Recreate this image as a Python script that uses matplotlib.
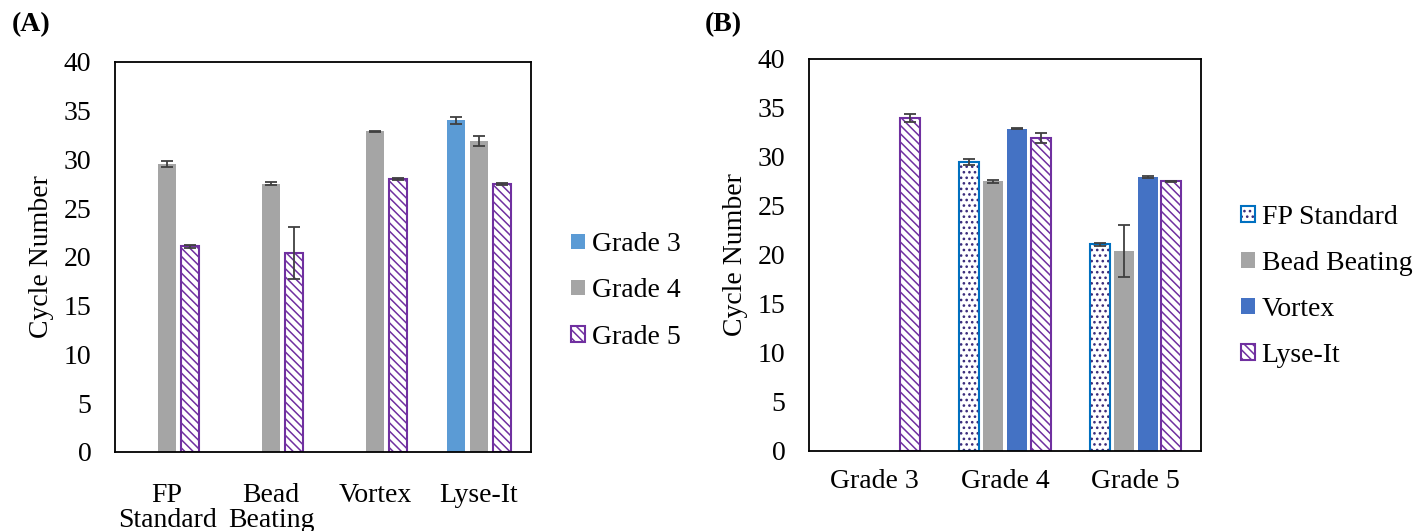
import numpy as np
import matplotlib
matplotlib.use("Agg")
import matplotlib.pyplot as plt

plt.rcParams['font.family'] = ['Liberation Serif', 'DejaVu Serif']
plt.rcParams['font.size'] = 20
plt.rcParams['hatch.linewidth'] = 1.1

# data
methods = ['FP Standard', 'Bead Beating', 'Vortex', 'Lyse-It']
method_ticks = ['FP\nStandard', 'Bead\nBeating', 'Vortex', 'Lyse-It']
grades = ['Grade 3', 'Grade 4', 'Grade 5']

grade3 = [np.nan, np.nan, np.nan, 34.0]
grade4 = [29.5, 27.5, 32.9, 31.9]
grade5 = [21.1, 20.4, 28.0, 27.5]
err3 = [np.nan, np.nan, np.nan, 0.4]
err4 = [0.3, 0.15, 0.05, 0.5]
err5 = [0.15, 2.65, 0.1, 0.1]

purple = '#7030A0'
hatch_col = '#3A2A7A'
gray = '#A5A5A5'
light_blue = '#5B9BD5'
blue = '#4472C4'
fp_edge = '#0070C0'
err_col = '#404040'

fig = plt.figure(figsize=(14.27, 5.31), dpi=100)

# ---------- (A) grouped by method ----------
ax1 = fig.add_axes([0.0806, 0.1488, 0.2915, 0.7345])
x = np.arange(len(methods))
w = 0.18
step = 0.221
vals = [grade3, grade4, grade5]
errs = [err3, err4, err5]
handles_a = []
for i, (v, e) in enumerate(zip(vals, errs)):
    pos = x + (i - 1) * step
    if i == 0:
        b = ax1.bar(pos, v, w, color=light_blue, label=grades[i])
    elif i == 1:
        b = ax1.bar(pos, v, w, color=gray, label=grades[i])
    else:
        b = ax1.bar(pos, v, w, color='white', edgecolor=purple, lw=1.5,
                    hatch='\\\\\\\\', label=grades[i])
    handles_a.append(b)
    ax1.errorbar(pos, v, yerr=e, fmt='none', ecolor=err_col, elinewidth=1.3,
                 capsize=4, capthick=1.3)
ax1.set_xticks(x)
ax1.set_xticklabels(method_ticks, linespacing=1.05)
ax1.set_xlim(-0.5, 3.5)
ax1.set_ylim(0, 40)
ax1.set_yticks(range(0, 41, 5))
ax1.set_ylabel('Cycle Number', labelpad=7)
ax1.tick_params(axis='both', length=0)
ax1.tick_params(axis='y', pad=17)
ax1.tick_params(axis='x', pad=22)
ax1.legend(handles=handles_a, loc='center left', bbox_to_anchor=(1.036, 0.413),
           frameon=False, handlelength=0.5, handleheight=0.5,
           handletextpad=0.25, labelspacing=0.76)

# ---------- (B) grouped by grade ----------
ax2 = fig.add_axes([0.5669, 0.1507, 0.2747, 0.7382])
xg = np.arange(len(grades))
wb = 0.153
stepb = 0.182
handles_b = []
for j, m in enumerate(methods):
    v = [grade3[j], grade4[j], grade5[j]]
    e = [err3[j], err4[j], err5[j]]
    pos = xg + (j - 1.5) * stepb
    if j == 0:
        b1 = ax2.bar(pos, v, wb, color='white', edgecolor=hatch_col, lw=0, hatch='...')
        b2 = ax2.bar(pos, v, wb, fill=False, edgecolor=fp_edge, lw=1.5)
        handles_b.append((b1[0], b2[0]))
    elif j == 1:
        b = ax2.bar(pos, v, wb, color=gray)
        handles_b.append(b)
    elif j == 2:
        b = ax2.bar(pos, v, wb, color=blue)
        handles_b.append(b)
    else:
        b = ax2.bar(pos, v, wb, color='white', edgecolor=purple, lw=1.5,
                    hatch='\\\\\\\\')
        handles_b.append(b)
    ax2.errorbar(pos, v, yerr=e, fmt='none', ecolor=err_col, elinewidth=1.3,
                 capsize=4, capthick=1.3)
ax2.set_xticks(xg)
ax2.set_xticklabels(grades)
ax2.set_xlim(-0.5, 2.5)
ax2.set_ylim(0, 40)
ax2.set_yticks(range(0, 41, 5))
ax2.set_ylabel('Cycle Number', labelpad=7)
ax2.tick_params(axis='both', length=0)
ax2.tick_params(axis='y', pad=17)
ax2.tick_params(axis='x', pad=13)
ax2.legend(handles=handles_b, labels=methods, loc='center left',
           bbox_to_anchor=(1.038, 0.42), frameon=False, handlelength=0.5,
           handleheight=0.5, handletextpad=0.25, labelspacing=0.76)

for ax in (ax1, ax2):
    for s in ax.spines.values():
        s.set_linewidth(1.3)
        s.set_color('black')

fig.text(0.008, 0.953, '(A)', fontweight='bold', fontsize=20, va='center')
fig.text(0.494, 0.953, '(B)', fontweight='bold', fontsize=20, va='center')

fig.savefig('out.png', dpi=100)
